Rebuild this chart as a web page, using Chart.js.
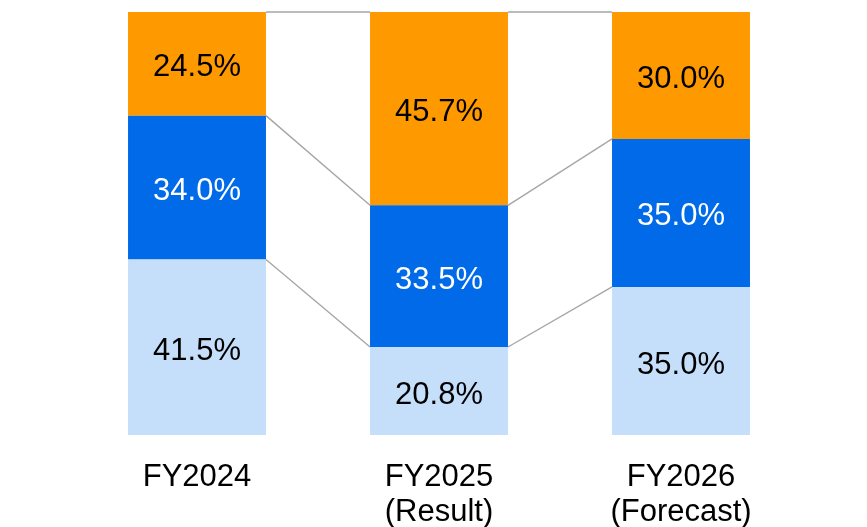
<!DOCTYPE html>
<html>
<head>
<meta charset="utf-8">
<script src="https://cdn.jsdelivr.net/npm/chart.js@4.4.1/dist/chart.umd.min.js"></script>
<style>
  html, body { margin: 0; padding: 0; background: #ffffff; }
  #wrap { width: 867px; height: 527px; position: relative; }
</style>
</head>
<body>
<div id="wrap"><canvas id="c"></canvas></div>
<script>
const categories = [["FY2024"], ["FY2025", "(Result)"], ["FY2026", "(Forecast)"]];
const bottomSeries = [41.5, 20.8, 35.0];
const middleSeries = [34.0, 33.5, 35.0];
const topSeries = [24.5, 45.7, 30.0];

const FONT = "'Liberation Sans', Arial, sans-serif";

const connectorPlugin = {
  id: 'connectors',
  beforeDatasetsDraw(chart) {
    const ctx = chart.ctx;
    const y = chart.scales.y;
    const metas = chart.data.datasets.map((d, i) => chart.getDatasetMeta(i));
    const n = chart.data.labels.length;
    ctx.save();
    ctx.strokeStyle = '#a6a6a6';
    ctx.lineWidth = 1.4;
    for (let i = 0; i < n - 1; i++) {
      let cumA = 0, cumB = 0;
      chart.data.datasets.forEach((ds, k) => {
        cumA += ds.data[i];
        cumB += ds.data[i + 1];
        const barA = metas[k].data[i];
        const barB = metas[k].data[i + 1];
        const x1 = barA.x + barA.width / 2;
        const x2 = barB.x - barB.width / 2;
        ctx.beginPath();
        ctx.moveTo(x1, y.getPixelForValue(cumA));
        ctx.lineTo(x2, y.getPixelForValue(cumB));
        ctx.stroke();
      });
    }
    ctx.restore();
  }
};

const labelPlugin = {
  id: 'valueLabels',
  afterDatasetsDraw(chart) {
    const ctx = chart.ctx;
    ctx.save();
    ctx.font = '31px ' + FONT;
    ctx.textAlign = 'center';
    ctx.textBaseline = 'middle';
    chart.data.datasets.forEach((ds, k) => {
      const meta = chart.getDatasetMeta(k);
      meta.data.forEach((bar, i) => {
        const yc = (bar.y + bar.base) / 2;
        ctx.fillStyle = ds.labelColor;
        ctx.fillText(ds.data[i].toFixed(1) + '%', bar.x, yc + 4);
      });
    });
    ctx.restore();
  }
};

new Chart(document.getElementById('c'), {
  type: 'bar',
  data: {
    labels: categories,
    datasets: [
      { label: 'bottom', data: bottomSeries, backgroundColor: '#c5dffb', labelColor: '#000000' },
      { label: 'middle', data: middleSeries, backgroundColor: '#006ae8', labelColor: '#ffffff' },
      { label: 'top', data: topSeries, backgroundColor: '#ff9900', labelColor: '#000000' }
    ]
  },
  options: {
    responsive: true,
    maintainAspectRatio: false,
    animation: false,
    layout: { padding: { left: 76, right: 65, top: 12, bottom: 0 } },
    datasets: { bar: { categoryPercentage: 1.0, barPercentage: 0.57, borderWidth: 0 } },
    plugins: { legend: { display: false }, tooltip: { enabled: false } },
    scales: {
      x: {
        stacked: true,
        grid: { display: false, drawTicks: false },
        border: { display: false },
        ticks: {
          color: '#000000',
          font: { family: FONT, size: 31, lineHeight: 1.13 },
          padding: 25,
          maxRotation: 0,
          autoSkip: false
        },
        afterFit(scale) { scale.height = 92; }
      },
      y: {
        stacked: true,
        display: false,
        min: 0,
        max: 100
      }
    }
  },
  plugins: [connectorPlugin, labelPlugin]
});
</script>
</body>
</html>
